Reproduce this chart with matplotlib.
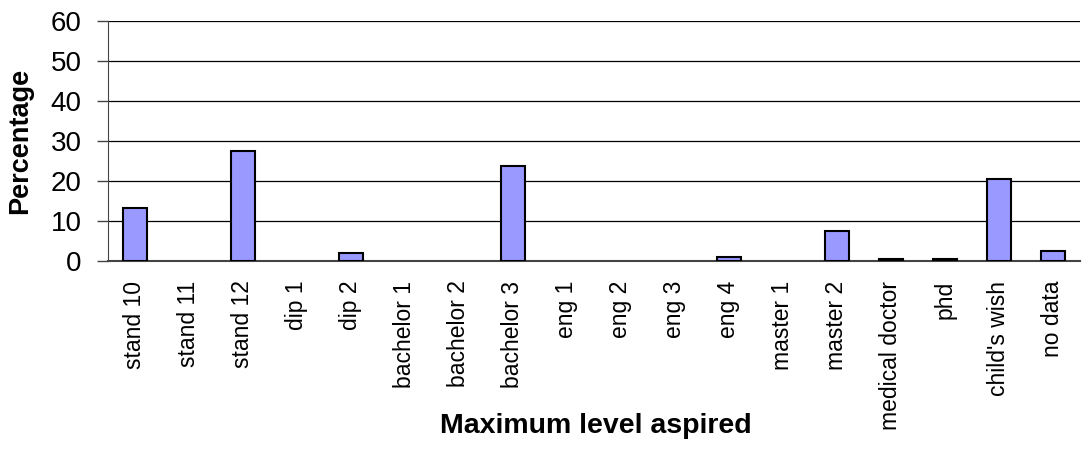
import matplotlib
matplotlib.use('Agg')
import matplotlib.pyplot as plt

plt.rcParams['font.family'] = ['Liberation Sans', 'DejaVu Sans']

levels = ['stand 10', 'stand 11', 'stand 12', 'dip 1', 'dip 2', 'bachelor 1',
          'bachelor 2', 'bachelor 3', 'eng 1', 'eng 2', 'eng 3', 'eng 4',
          'master 1', 'master 2', 'medical doctor', 'phd', "child's wish", 'no data']
percent = [13.2, 0, 27.6, 0, 2.0, 0, 0, 23.8, 0, 0, 0, 1.0,
           0, 7.4, 0.5, 0.5, 20.5, 2.6]

fig = plt.figure(figsize=(10.86, 4.73), dpi=100)
ax = fig.add_axes([0.0994, 0.448, 0.895, 0.508])

x = range(len(levels))
# no outline for empty categories
lw = [1.5 if p > 0 else 0 for p in percent]
ax.bar(x, percent, width=0.45, color='#9999FF', edgecolor='black', linewidth=lw, zorder=3)

ax.set_ylim(0, 60)
ax.set_xlim(-0.5, len(levels) - 0.5)
ax.set_yticks(range(0, 61, 10))
ax.yaxis.grid(True, color='black', linewidth=0.9, zorder=0)
ax.set_xticks(list(x))
ax.set_xticklabels(levels, rotation=90, fontsize=16.5)
ax.tick_params(axis='x', length=0, pad=14)
ax.tick_params(axis='y', labelsize=20, length=8, width=1, color='#444444', pad=11)

for s in ['top', 'right']:
    ax.spines[s].set_visible(False)
ax.spines['left'].set_color('#444444')
ax.spines['bottom'].set_color('#444444')
ax.spines['bottom'].set_linewidth(1.5)

ax.set_ylabel('Percentage', fontsize=19.5, fontweight='bold')
ax.yaxis.set_label_coords(-0.077, 0.5)
fig.text(0.549, 0.10, 'Maximum level aspired', fontsize=20.5, fontweight='bold', ha='center', va='center')

fig.savefig('out.png', dpi=100)
